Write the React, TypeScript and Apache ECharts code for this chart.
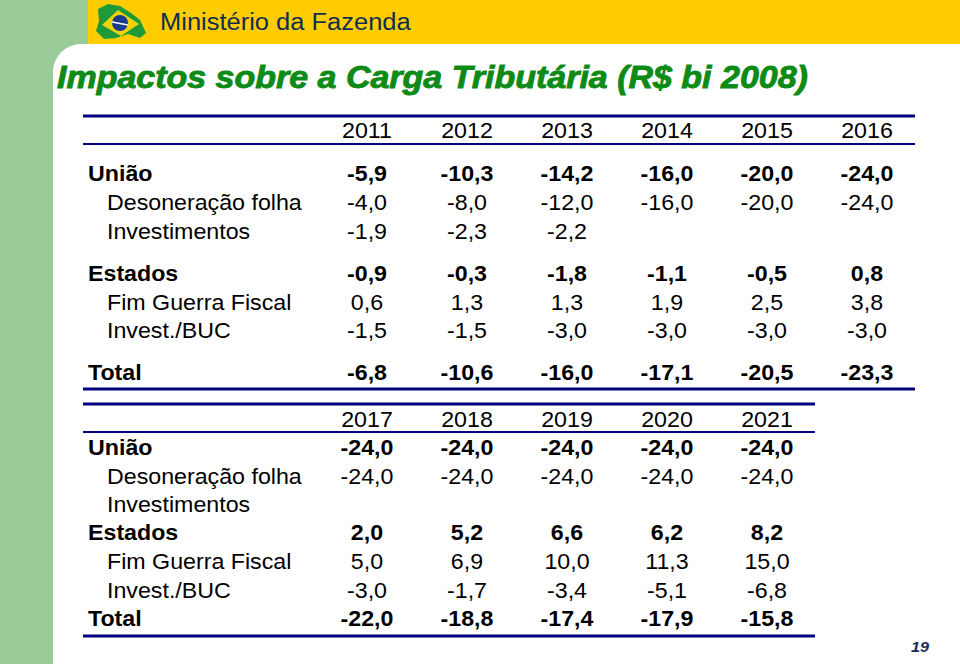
import React, { useEffect, useRef } from "react";
import * as echarts from "echarts";

// ---- Data ----
const years1 = ["2011", "2012", "2013", "2014", "2015", "2016"];
const years2 = ["2017", "2018", "2019", "2020", "2021"];
const rowLabels = ["União", "Desoneração folha", "Investimentos", "Estados", "Fim Guerra Fiscal", "Invest./BUC", "Total"];
const rowBold = [true, false, false, true, false, false, true];

const uniao1 = [-5.9, -10.3, -14.2, -16.0, -20.0, -24.0];
const desoneracao1 = [-4.0, -8.0, -12.0, -16.0, -20.0, -24.0];
const investimentos1 = [-1.9, -2.3, -2.2, null, null, null];
const estados1 = [-0.9, -0.3, -1.8, -1.1, -0.5, 0.8];
const guerraFiscal1 = [0.6, 1.3, 1.3, 1.9, 2.5, 3.8];
const investBuc1 = [-1.5, -1.5, -3.0, -3.0, -3.0, -3.0];
const total1 = [-6.8, -10.6, -16.0, -17.1, -20.5, -23.3];

const uniao2 = [-24.0, -24.0, -24.0, -24.0, -24.0];
const desoneracao2 = [-24.0, -24.0, -24.0, -24.0, -24.0];
const investimentos2 = [null, null, null, null, null];
const estados2 = [2.0, 5.2, 6.6, 6.2, 8.2];
const guerraFiscal2 = [5.0, 6.9, 10.0, 11.3, 15.0];
const investBuc2 = [-3.0, -1.7, -3.4, -5.1, -6.8];
const total2 = [-22.0, -18.8, -17.4, -17.9, -15.8];

const table1Rows = [uniao1, desoneracao1, investimentos1, estados1, guerraFiscal1, investBuc1, total1];
const table2Rows = [uniao2, desoneracao2, investimentos2, estados2, guerraFiscal2, investBuc2, total2];

// ---- Layout ----
const SX = 1.08;
const FONT = "'Liberation Sans', Arial, Helvetica, sans-serif";
const NAVY = "#000080";
const colX0 = 367;
const colStep = 100;
const labelXBold = 88;
const labelXSub = 107;
const t1 = { top: 116, headY: 131, headLine: 144, rows: [174, 203, 232, 274, 303, 331, 373], bottom: 389, right: 915 };
const t2 = { top: 404, headY: 420, headLine: 432, rows: [448, 477, 505, 533, 562, 591, 619], bottom: 636, right: 815 };

const fmt = (v: number | null) => (v === null ? "" : v.toFixed(1).replace(".", ","));

function txt(x: number, y: number, text: string, opts: any = {}) {
  const style: any = {
    text,
    fill: opts.fill ?? "#000",
    font: `${opts.italic ? "italic " : ""}${opts.bold ? "bold " : ""}${opts.size ?? 21.5}px ${FONT}`,
    textAlign: opts.align ?? "left",
    textVerticalAlign: "middle",
  };
  if (opts.stroke) {
    style.stroke = opts.stroke;
    style.lineWidth = opts.strokeWidth ?? 1;
  }
  return { type: "text", x, y, scaleX: opts.scaleX ?? SX, silent: true, style };
}

function hline(x1: number, x2: number, y: number, w: number) {
  return { type: "line", silent: true, shape: { x1, y1: y, x2, y2: y }, style: { stroke: NAVY, lineWidth: w } };
}

function buildTable(years: string[], rows: (number | null)[][], L: any) {
  const els: any[] = [];
  els.push(hline(83, L.right, L.top, 3));
  els.push(hline(83, L.right, L.headLine, 2));
  els.push(hline(83, L.right, L.bottom, 3));
  years.forEach((y, i) => els.push(txt(colX0 + i * colStep, L.headY, y, { align: "center" })));
  rowLabels.forEach((lab, r) => {
    const bold = rowBold[r];
    els.push(txt(bold ? labelXBold : labelXSub, L.rows[r], lab, { bold }));
    rows[r].forEach((v, i) => {
      if (v === null) return;
      els.push(txt(colX0 + i * colStep, L.rows[r], fmt(v), { bold, align: "center" }));
    });
  });
  return els;
}

export default function App() {
  const ref = useRef<HTMLDivElement>(null);
  useEffect(() => {
    if (!ref.current) return;
    const chart = echarts.init(ref.current, null, { renderer: "svg" });
    const graphic: any[] = [
      // background frame
      { type: "rect", silent: true, shape: { x: 0, y: 0, width: 960, height: 664 }, style: { fill: "#99CC99" } },
      { type: "rect", silent: true, shape: { x: 88, y: 0, width: 872, height: 44 }, style: { fill: "#FFCC00" } },
      { type: "rect", silent: true, shape: { x: 53, y: 44, width: 907, height: 620, r: [28, 0, 0, 0] }, style: { fill: "#ffffff" } },
      { type: "rect", silent: true, shape: { x: 53, y: 662, width: 907, height: 2 }, style: { fill: "#ffffff" } },
      // flag logo
      {
        type: "polygon", silent: true,
        shape: { points: [[98, 9], [108, 4], [120, 6], [131, 13], [140, 20], [146, 33], [140, 38], [128, 34], [116, 38], [104, 39], [96, 31], [99, 21]] },
        style: { fill: "#1f9a3a" },
      },
      {
        type: "polygon", silent: true,
        shape: { points: [[102, 25], [118, 10], [139, 24], [121, 36]] },
        style: { fill: "#f2d20a" },
      },
      { type: "circle", silent: true, shape: { cx: 120, cy: 23, r: 8 }, style: { fill: "#1b3c8c" } },
      { type: "line", silent: true, shape: { x1: 112, y1: 22, x2: 128, y2: 25 }, style: { stroke: "#ffffff", lineWidth: 1.5 } },
      // header texts
      txt(160, 22, "Ministério da Fazenda", { size: 23.5, fill: "#102e50", scaleX: 1.085 }),
      txt(57, 77, "Impactos sobre a Carga Tributária (R$ bi 2008)", {
        size: 32, bold: true, italic: true, fill: "#0e8a16", stroke: "#0e8a16", strokeWidth: 0.9, scaleX: 1.062,
      }),
      txt(920, 647, "19", { size: 15, bold: true, italic: true, fill: "#1a2a5a", align: "center" }),
      ...buildTable(years1, table1Rows, t1),
      ...buildTable(years2, table2Rows, t2),
    ];
    chart.setOption({ animation: false, backgroundColor: "#ffffff", graphic });
    return () => chart.dispose();
  }, []);
  return (
    <div
      ref={ref}
      style={{ position: "fixed", left: 0, top: 0, width: 960, height: 664 }}
    />
  );
}
